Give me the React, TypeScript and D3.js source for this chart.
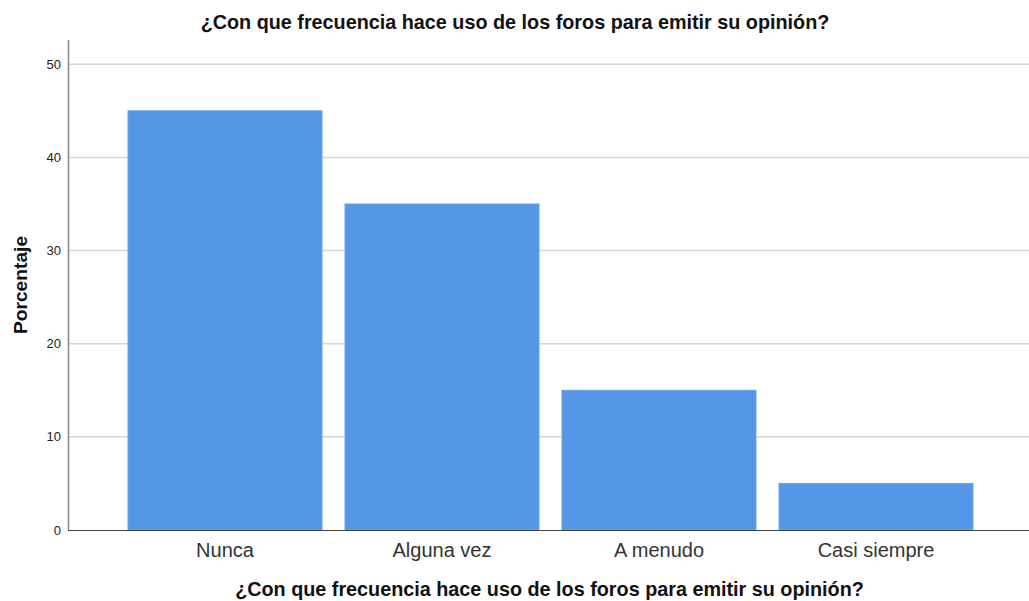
import React from "react";
import * as d3 from "d3";

const categories = ["Nunca", "Alguna vez", "A menudo", "Casi siempre"];
const percentages = [45, 35, 15, 5];
const yTicks = [0, 10, 20, 30, 40, 50];
const title = "¿Con que frecuencia hace uso de los foros para emitir su opinión?";
const yLabel = "Porcentaje";

const W = 1029;
const H = 601;

export default function App() {
  const x = d3.scaleBand<string>().domain(categories).range([72, 1029]).paddingInner(0.106).paddingOuter(0.258);
  const y = d3.scaleLinear().domain([0, 52.6]).range([530, 40]);
  const font = "'Liberation Sans', Arial, sans-serif";
  return (
    <svg width={W} height={H} style={{ position: "absolute", left: 0, top: 0, background: "#fff" }} fontFamily={font}>
      {yTicks.filter((t) => t > 0).map((t) => (
        <line key={t} x1={69} x2={W} y1={y(t)} y2={y(t)} stroke="#d6d6d6" strokeWidth={1.5} />
      ))}
      {categories.map((c, i) => (
        <rect key={c} x={x(c)} y={y(percentages[i])} width={x.bandwidth()} height={y(0) - y(percentages[i])} fill="#5596e6" stroke="#6aa4ea" strokeWidth={1} />
      ))}
      <line x1={68.5} x2={68.5} y1={y(52.6)} y2={y(0)} stroke="#888" strokeWidth={1.5} />
      <line x1={68} x2={W} y1={y(0) + 0.5} y2={y(0) + 0.5} stroke="#444" strokeWidth={1} />
      {yTicks.map((t) => (
        <text key={t} x={61} y={y(t)} dy="0.35em" textAnchor="end" fontSize={13} fill="#222">{t}</text>
      ))}
      {categories.map((c) => (
        <text key={c} x={(x(c) ?? 0) + x.bandwidth() / 2} y={557} textAnchor="middle" fontSize={20} fill="#333">{c}</text>
      ))}
      <text x={515} y={29} textAnchor="middle" fontSize={19.8} fontWeight="bold" fill="#111">{title}</text>
      <text x={549.5} y={596} textAnchor="middle" fontSize={19.8} fontWeight="bold" fill="#111">{title}</text>
      <text transform={`translate(27,${(y(0) + y(52.6)) / 2}) rotate(-90)`} textAnchor="middle" fontSize={19.2} fontWeight="bold" fill="#111">{yLabel}</text>
    </svg>
  );
}
